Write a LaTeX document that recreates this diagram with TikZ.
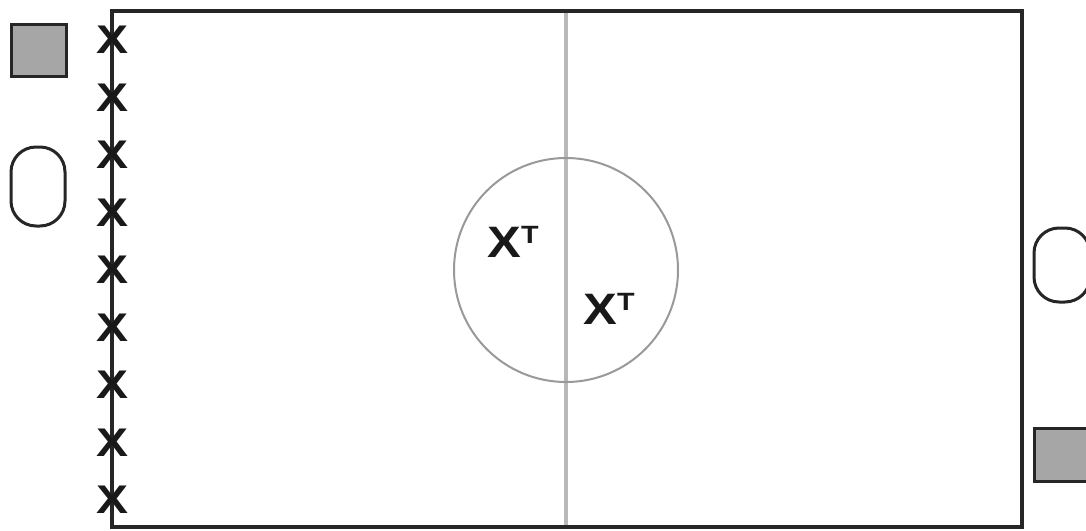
\documentclass[tikz,border=0pt]{standalone}
\usepackage{fontspec}
\setmainfont{Liberation Sans}
\begin{document}
\begin{tikzpicture}[x=1pt,y=-1pt,
  midline/.style={draw=black!28,line width=3.5pt},
  circline/.style={draw=black!40,line width=2pt},
  xmark/.style={inner sep=0pt,font=\bfseries\fontsize{40}{40}\selectfont,text=black!90,xscale=1.2},
  xt/.style={inner sep=0pt,font=\bfseries\fontsize{44}{44}\selectfont,text=black!90,xscale=1.15},
  cone/.style={draw=black!85,line width=3pt,rounded corners=25pt},
  boxmark/.style={draw=black!85,fill=black!35,line width=3pt}]
\useasboundingbox (0,0) rectangle (1086,530);
\clip (0,0) rectangle (1086,530);
% field
\draw[midline] (566,11) coordinate (mt) -- (566,527) coordinate (mb);
\draw[circline] (566,270) circle[radius=112];
\node[draw=black!85,line width=3.2pt,inner sep=0pt,minimum width=910pt,minimum height=516pt] (field) at (567,269) {};
% players on left line
\foreach \i in {0,...,8}{
  \node[xmark] (p\i) at (113,{40+57.5*\i}) {X};
}
% players in circle
\node[xt] (t1) at (513,242) {X\raisebox{14pt}{\fontsize{25}{25}\selectfont T}};
\node[xt] (t2) at (609,309) {X\raisebox{14pt}{\fontsize{25}{25}\selectfont T}};
% left markers
\draw[boxmark] (11,24) rectangle (66,76);
\draw[cone] (11,147) rectangle (65,226);
% right markers
\draw[cone] (1034,228) rectangle (1090,302);
\draw[boxmark] (1034,428) rectangle (1092,481);
\end{tikzpicture}
\end{document}
